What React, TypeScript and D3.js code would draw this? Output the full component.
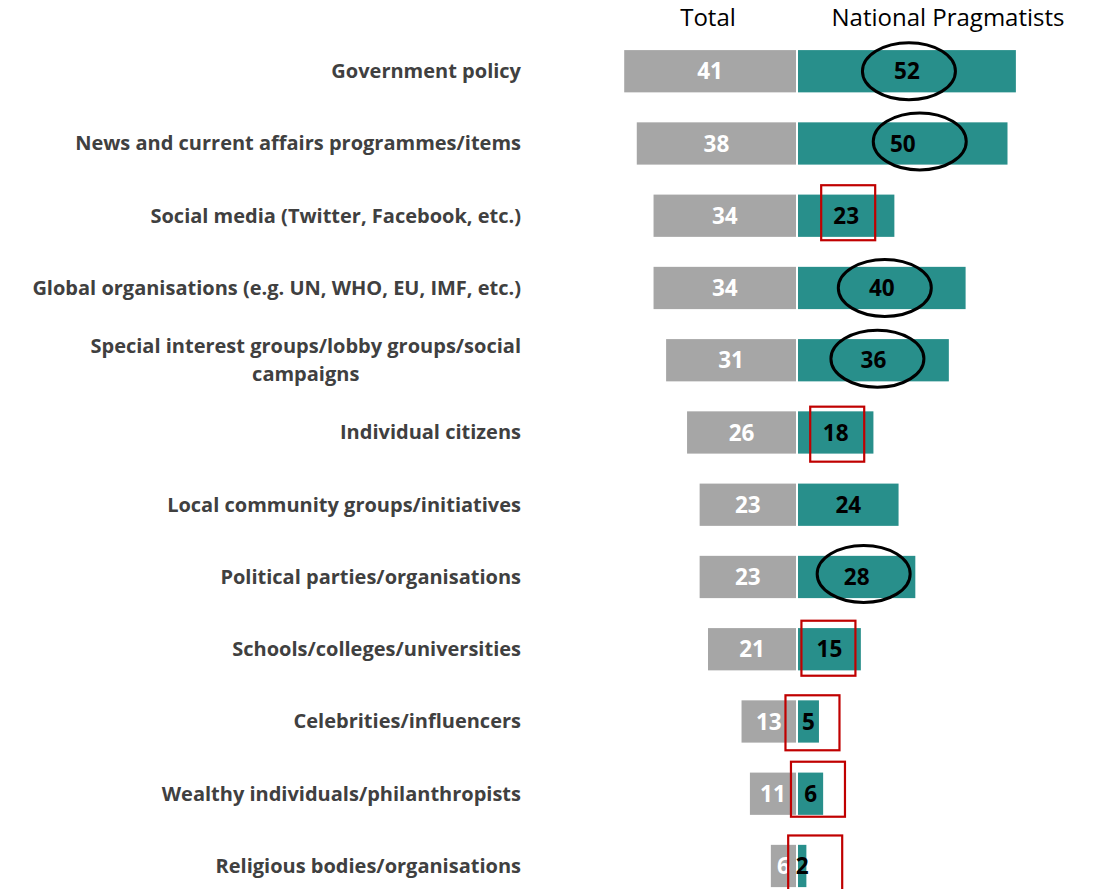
import React from "react";
import * as d3 from "d3";

const categories = [
  "Government policy",
  "News and current affairs programmes/items",
  "Social media (Twitter, Facebook, etc.)",
  "Global organisations (e.g. UN, WHO, EU, IMF, etc.)",
  "Special interest groups/lobby groups/social campaigns",
  "Individual citizens",
  "Local community groups/initiatives",
  "Political parties/organisations",
  "Schools/colleges/universities",
  "Celebrities/influencers",
  "Wealthy individuals/philanthropists",
  "Religious bodies/organisations",
];

const totalValues = [41, 38, 34, 34, 31, 26, 23, 23, 21, 13, 11, 6];
const pragmatistValues = [52, 50, 23, 40, 36, 18, 24, 28, 15, 5, 6, 2];

const seriesNames = ["Total", "National Pragmatists"];

// highlight marks drawn over the teal labels (ellipse = higher, box = lower)
const highlights = [
  { row: 0, kind: "ellipse", dx: 2, dy: 0 },
  { row: 1, kind: "ellipse", dx: 17, dy: -2 },
  { row: 2, kind: "box", dx: 2, dy: -3 },
  { row: 3, kind: "ellipse", dx: 3, dy: 0 },
  { row: 4, kind: "ellipse", dx: 4, dy: -1.5 },
  { row: 5, kind: "box", dx: 1.5, dy: 1.7 },
  { row: 7, kind: "ellipse", dx: 7, dy: -3 },
  { row: 8, kind: "box", dx: -1, dy: -1 },
  { row: 9, kind: "box", dx: 4, dy: 1.3 },
  { row: 10, kind: "box", dx: 7.4, dy: -4.5 },
  { row: 11, kind: "box", dx: 13, dy: -3 },
];

const width = 1094;
const height = 889;
const mid = 797;
const labelRight = 521;
const font = "'Open Sans', Lato, sans-serif";
const grey = "#a6a6a6";
const teal = "#288f8b";

const wrapLabel = (s: string) =>
  s === "Special interest groups/lobby groups/social campaigns"
    ? ["Special interest groups/lobby groups/social", "campaigns"]
    : [s];

export default function App() {
  const x = d3.scaleLinear().domain([0, 60]).range([0, 251.4]);
  const y = d3
    .scaleBand()
    .domain(categories)
    .range([35.1, 35.1 + 72.25 * categories.length])
    .paddingInner(0.415)
    .paddingOuter(0.2075);
  const bw = y.bandwidth();
  const cy = (i: number) => (y(categories[i]) as number) + bw / 2;
  const leftX = mid - 1;
  const rightX = mid + 1;

  return (
    <svg
      width={width}
      height={height}
      style={{ position: "absolute", left: 0, top: 0, background: "#fff" }}
      fontFamily={font}
    >
      <text x={708} y={25.5} textAnchor="middle" fontSize={24} fill="#000">
        {seriesNames[0]}
      </text>
      <text x={948} y={25.5} textAnchor="middle" fontSize={24} fill="#000">
        {seriesNames[1]}
      </text>

      {categories.map((c, i) => {
        const lines = wrapLabel(c);
        const yc = cy(i);
        if (lines.length === 1) {
          return (
            <text
              key={c}
              x={labelRight}
              y={yc}
              dy="0.35em"
              textAnchor="end"
              fontSize={20}
              fontWeight="bold"
              fill="#404040"
            >
              {c}
            </text>
          );
        }
        return (
          <text
            key={c}
            x={labelRight}
            y={yc}
            textAnchor="middle"
            fontSize={20}
            fontWeight="bold"
            fill="#404040"
            ref={(el) => {
              if (!el) return;
              const w = (el.firstChild as SVGTextContentElement).getComputedTextLength();
              el.querySelectorAll("tspan").forEach((t) => t.setAttribute("x", String(labelRight - w / 2)));
            }}
          >
            {lines.map((l, j) => (
              <tspan key={j} x={labelRight} y={yc + (j - (lines.length - 1) / 2) * 28} dy="0.35em">
                {l}
              </tspan>
            ))}
          </text>
        );
      })}

      {totalValues.map((v, i) => (
        <g key={"t" + i}>
          <rect x={leftX - x(v)} y={y(categories[i])} width={x(v)} height={bw} fill={grey} />
          <text
            x={leftX - x(v) / 2}
            y={cy(i)}
            dy="0.36em"
            textAnchor="middle"
            fontSize={22.5}
            fontWeight="bold"
            fill="#fff"
          >
            {v}
          </text>
        </g>
      ))}

      {pragmatistValues.map((v, i) => (
        <g key={"p" + i}>
          <rect x={rightX} y={y(categories[i])} width={x(v)} height={bw} fill={teal} />
          <text
            x={rightX + x(v) / 2}
            y={cy(i)}
            dy="0.36em"
            textAnchor="middle"
            fontSize={22.5}
            fontWeight="bold"
            fill="#000"
          >
            {v}
          </text>
        </g>
      ))}

      {highlights.map((h, k) => {
        const hx = rightX + x(pragmatistValues[h.row]) / 2 + h.dx;
        const hy = cy(h.row) + h.dy;
        return h.kind === "ellipse" ? (
          <ellipse key={k} cx={hx} cy={hy} rx={46.5} ry={28.5} fill="none" stroke="#000" strokeWidth={3} />
        ) : (
          <rect
            key={k}
            x={hx - 27}
            y={hy - 27.5}
            width={54}
            height={55}
            fill="none"
            stroke="#c00000"
            strokeWidth={2.2}
          />
        );
      })}
    </svg>
  );
}
